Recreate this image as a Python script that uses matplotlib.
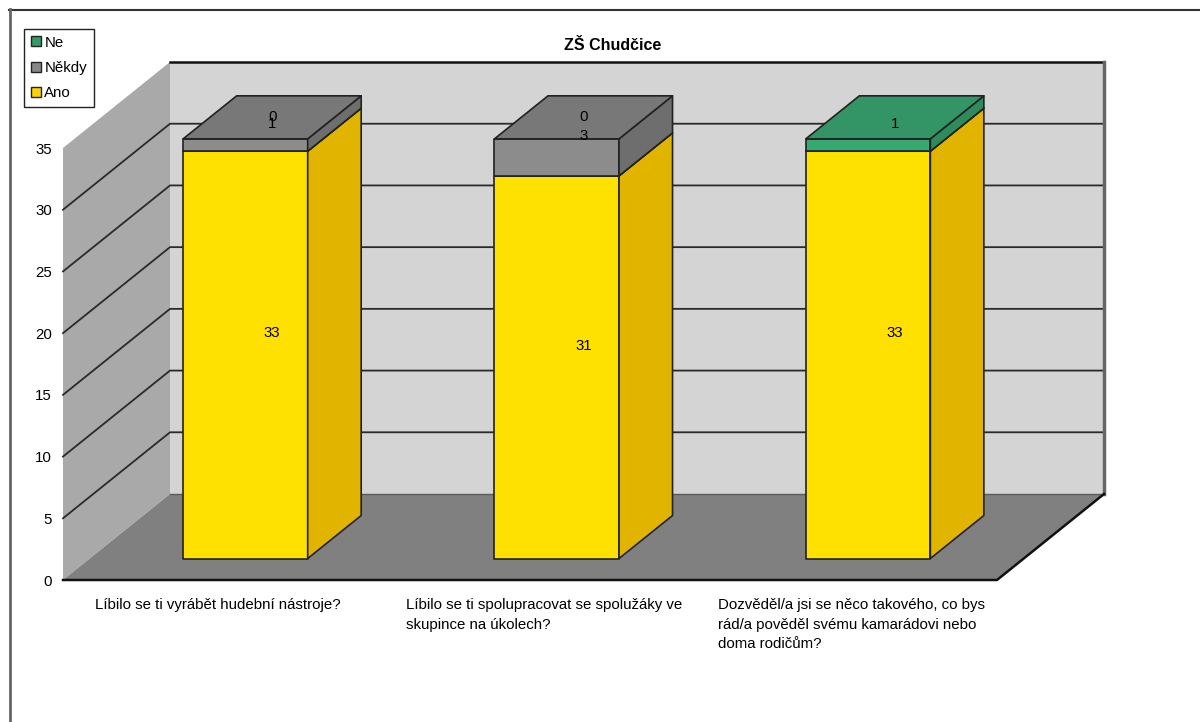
import matplotlib
matplotlib.use("Agg")
import matplotlib.pyplot as plt
from matplotlib.patches import Polygon, Patch
from matplotlib.lines import Line2D

plt.rcParams['font.family'] = ['Liberation Sans', 'DejaVu Sans']

# survey answers per question (None = empty cell, no label)
questions = [
    "Líbilo se ti vyrábět hudební nástroje?",
    "Líbilo se ti spolupracovat se spolužáky ve\nskupince na úkolech?",
    "Dozvěděl/a jsi se něco takového, co bys\nrád/a pověděl svému kamarádovi nebo\ndoma rodičům?",
]
ano = [33, 31, 33]
nekdy = [1, 3, None]
ne = [0, 0, 1]
series_names = ["Ano", "Někdy", "Ne"]

# (front, top, side) shading of each series
shades = {
    "Ano": ("#FFE100", "#F2D200", "#E1B400"),
    "Někdy": ("#8C8C8C", "#787878", "#6E6E6E"),
    "Ne": ("#38A872", "#339466", "#2E8B5E"),
}
legend_colors = {"Ne": "#339966", "Někdy": "#888888", "Ano": "#FFD200"}

FS = 10.8
ymax = 35
DX = 107 / 311.3      # depth shift along x (data units)
DY = 86 / 12.343      # depth shift along y (data units)
bar_half = 0.2
d0, d1 = 0.25, 0.75   # bar depth range


def P(x, v, d):
    return (x + d * DX, v + d * DY)


fig = plt.figure(figsize=(12, 7.22), dpi=100)
fig.patch.set_facecolor("white")
ax = fig.add_axes([63 / 1200, 142 / 722, 934 / 1200, 432 / 722])
ax.set_xlim(0, 3)
ax.set_ylim(0, ymax)
ax.patch.set_visible(False)
for s in ax.spines.values():
    s.set_visible(False)
ax.set_xticks([])
ax.set_yticks(range(0, ymax + 1, 5))
ax.tick_params(axis="y", length=0, pad=8, labelsize=FS)

n = len(questions)

# walls and floor
walls = [
    ([P(0, 0, 0), P(0, 0, 1), P(0, ymax, 1), P(0, ymax, 0)], "#A9A9A9"),
    ([P(0, 0, 1), P(n, 0, 1), P(n, ymax, 1), P(0, ymax, 1)], "#D4D4D4"),
    ([P(0, 0, 0), P(n, 0, 0), P(n, 0, 1), P(0, 0, 1)], "#808080"),
]
for pts, c in walls:
    ax.add_patch(Polygon(pts, closed=True, facecolor=c, edgecolor="none",
                         zorder=1, clip_on=False))

# gridlines on back and left wall
for v in range(5, ymax, 5):
    xs, ys = zip(P(0, v, 0), P(0, v, 1), P(n, v, 1))
    ax.add_line(Line2D(xs, ys, color="#2a2a2a", lw=1.3, zorder=2, clip_on=False))

# wall edges
edges = [
    ([P(0, ymax, 1), P(n, ymax, 1)], "#111111", 1.8),
    ([P(n, 0, 1), P(n, ymax, 1)], "#666666", 2.5),
    ([P(0, 0, 1), P(n, 0, 1)], "#5a5a5a", 1.0),
    ([P(0, 0, 0), P(n, 0, 0), P(n, 0, 1)], "#111111", 1.8),
]
for pts, c, lw in edges:
    xs, ys = zip(*pts)
    ax.add_line(Line2D(xs, ys, color=c, lw=lw, zorder=2, clip_on=False))

# stacked 3D bars
for i in range(n):
    xl, xr = i + 0.5 - bar_half, i + 0.5 + bar_half
    base = 0
    for name, vals in zip(series_names, [ano, nekdy, ne]):
        if vals[i] is None:
            continue
        h = vals[i]
        top = base + h
        if h > 0:
            front_c, top_c, side_c = shades[name]
            faces = [
                ([P(xl, base, d0), P(xr, base, d0), P(xr, top, d0), P(xl, top, d0)], front_c),
                ([P(xr, base, d0), P(xr, base, d1), P(xr, top, d1), P(xr, top, d0)], side_c),
                ([P(xl, top, d0), P(xr, top, d0), P(xr, top, d1), P(xl, top, d1)], top_c),
            ]
            for pts, c in faces:
                ax.add_patch(Polygon(pts, closed=True, facecolor=c, edgecolor="#222222",
                                     lw=1.2, joinstyle="round", zorder=3, clip_on=False))
        lx, ly = P(i + 0.5, base + h / 2, 0.5)
        ax.text(lx, ly, str(h), ha="center", va="center", fontsize=FS, zorder=10)
        base = top

# category labels under the floor
for i, q in enumerate(questions):
    ax.annotate(q, xy=(i + 0.103, 0), xycoords="data", xytext=(0, -18),
                textcoords="offset pixels", ha="left", va="top", fontsize=FS,
                linespacing=1.5, annotation_clip=False)

fig.text(613 / 1200, 1 - 45 / 722, "ZŠ Chudčice", ha="center", va="center",
         fontsize=11.5, fontweight="bold")

handles = [Patch(facecolor=legend_colors[s], edgecolor="#222222", lw=1.0)
           for s in ["Ne", "Někdy", "Ano"]]
leg = fig.legend(handles, ["Ne", "Někdy", "Ano"], loc="upper left",
                 bbox_to_anchor=(24 / 1200, 1 - 29 / 722), borderaxespad=0,
                 fontsize=FS, handlelength=0.65, handleheight=0.65, handletextpad=0.25,
                 labelspacing=0.75, borderpad=0.45, fancybox=False, framealpha=1)
leg.get_frame().set_edgecolor("#222222")
leg.get_frame().set_linewidth(1.0)

# chart area border
fig.add_artist(Line2D([9 / 1200, 1], [1 - 9.5 / 722] * 2, color="#333333", lw=1.5))
fig.add_artist(Line2D([9.5 / 1200] * 2, [0, 1 - 9 / 722], color="#666666", lw=2))

fig.savefig("out.png", dpi=100)
